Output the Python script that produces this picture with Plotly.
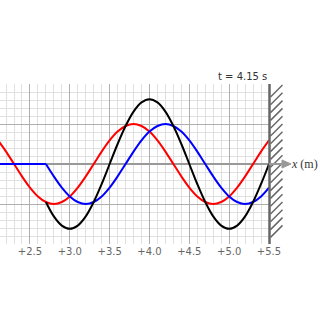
import plotly.graph_objects as go

# x positions (m)
x_all = [2.1, 2.2, 2.3, 2.4, 2.5, 2.6, 2.7, 2.8, 2.9, 3.0, 3.1, 3.2, 3.3, 3.4, 3.5,
         3.6, 3.7, 3.8, 3.9, 4.0, 4.1, 4.2, 4.3, 4.4, 4.5, 4.6, 4.7, 4.8, 4.9, 5.0,
         5.1, 5.2, 5.3, 5.4, 5.5]
# incident wave (red)
incident = [0.59, 0.31, 0.0, -0.31, -0.59, -0.81, -0.95, -1.0, -0.95, -0.81, -0.59,
            -0.31, 0.0, 0.31, 0.59, 0.81, 0.95, 1.0, 0.95, 0.81, 0.59, 0.31, 0.0,
            -0.31, -0.59, -0.81, -0.95, -1.0, -0.95, -0.81, -0.59, -0.31, 0.0, 0.31, 0.59]
# reflected wave (blue): flat before the front, then wave
x_refl_flat = [2.1, 2.7]
refl_flat = [0.0, 0.0]
x_refl = [2.7, 2.8, 2.9, 3.0, 3.1, 3.2, 3.3, 3.4, 3.5, 3.6, 3.7, 3.8, 3.9, 4.0, 4.1,
          4.2, 4.3, 4.4, 4.5, 4.6, 4.7, 4.8, 4.9, 5.0, 5.1, 5.2, 5.3, 5.4, 5.5]
reflected = [0.0, -0.31, -0.59, -0.81, -0.95, -1.0, -0.95, -0.81, -0.59, -0.31, 0.0,
             0.31, 0.59, 0.81, 0.95, 1.0, 0.95, 0.81, 0.59, 0.31, 0.0, -0.31, -0.59,
             -0.81, -0.95, -1.0, -0.95, -0.81, -0.59]
# superposition (black)
total = [-0.95, -1.31, -1.54, -1.62, -1.54, -1.31, -0.95, -0.5, 0.0, 0.5, 0.95, 1.31,
         1.54, 1.62, 1.54, 1.31, 0.95, 0.5, 0.0, -0.5, -0.95, -1.31, -1.54, -1.62,
         -1.54, -1.31, -0.95, -0.5, 0.0]

fig = go.Figure()
fig.add_trace(go.Scatter(x=x_all, y=incident, mode="lines",
                         line=dict(color="#ff0000", width=2, shape="spline"),
                         hoverinfo="skip"))
fig.add_trace(go.Scatter(x=x_refl_flat, y=refl_flat, mode="lines",
                         line=dict(color="#0000ff", width=2), hoverinfo="skip"))
fig.add_trace(go.Scatter(x=x_refl, y=reflected, mode="lines",
                         line=dict(color="#0000ff", width=2, shape="spline"),
                         hoverinfo="skip"))
fig.add_trace(go.Scatter(x=x_refl, y=total, mode="lines",
                         line=dict(color="#000000", width=2, shape="spline"),
                         hoverinfo="skip"))

W_PLOT = 269.0
H_PLOT = 160.0
TOP = 84.0


def px(x):
    return x / W_PLOT


def py(y):
    return (TOP + H_PLOT - y) / H_PLOT


shapes = []
# wall
shapes.append(dict(type="line", xref="paper", yref="paper", x0=px(269.5), x1=px(269.5),
                   y0=0, y1=1, line=dict(color="#666666", width=2.5)))
# hatches
yy = 97.0
while yy <= 240:
    shapes.append(dict(type="line", xref="paper", yref="paper",
                       x0=px(270.5), y0=py(yy), x1=px(282.5), y1=py(yy - 12),
                       line=dict(color="#666666", width=1.5)))
    yy += 7.8
# axis arrow
shapes.append(dict(type="line", xref="paper", yref="paper", x0=px(269), x1=px(284),
                   y0=py(164), y1=py(164), line=dict(color="#999999", width=2)))
shapes.append(dict(type="path", xref="paper", yref="paper",
                   path="M {} {} L {} {} L {} {} Z".format(px(282), py(160), px(291), py(164), px(282), py(168)),
                   fillcolor="#999999", line=dict(color="#999999", width=1)))

fig.update_layout(
    width=320, height=320,
    margin=dict(l=0, r=51, t=84, b=76),
    paper_bgcolor="white", plot_bgcolor="white",
    showlegend=False,
    shapes=shapes,
    xaxis=dict(range=[2.124, 5.5], tick0=2.5, dtick=0.5, tickprefix="+", tickformat=".1f",
               showgrid=True, gridcolor="#b0b0b0", gridwidth=1,
               minor=dict(dtick=0.1, tick0=2.5, showgrid=True, gridcolor="#e0e0e0", gridwidth=1),
               zeroline=False, showline=False, ticks="", fixedrange=True,
               tickfont=dict(family="DejaVu Sans", size=10, color="#666666")),
    yaxis=dict(range=[-2, 2], tick0=0, dtick=1, showticklabels=False,
               showgrid=True, gridcolor="#b0b0b0", gridwidth=1,
               minor=dict(dtick=0.2, tick0=0, showgrid=True, gridcolor="#e0e0e0", gridwidth=1),
               zeroline=True, zerolinecolor="#999999", zerolinewidth=2,
               showline=False, ticks="", fixedrange=True),
    annotations=[
        dict(text="t = 4.15 s", xref="paper", yref="paper", x=1.0, y=py(76),
             xanchor="right", yanchor="middle", showarrow=False,
             font=dict(family="DejaVu Sans", size=10, color="#333333")),
        dict(text="<i>x</i> (m)", xref="paper", yref="paper", x=px(290), y=py(164),
             xanchor="left", yanchor="middle", showarrow=False, borderpad=0,
             font=dict(family="Liberation Serif, Times New Roman, serif", size=12, color="#333333")),
    ],
)

fig.write_html("out.html")
